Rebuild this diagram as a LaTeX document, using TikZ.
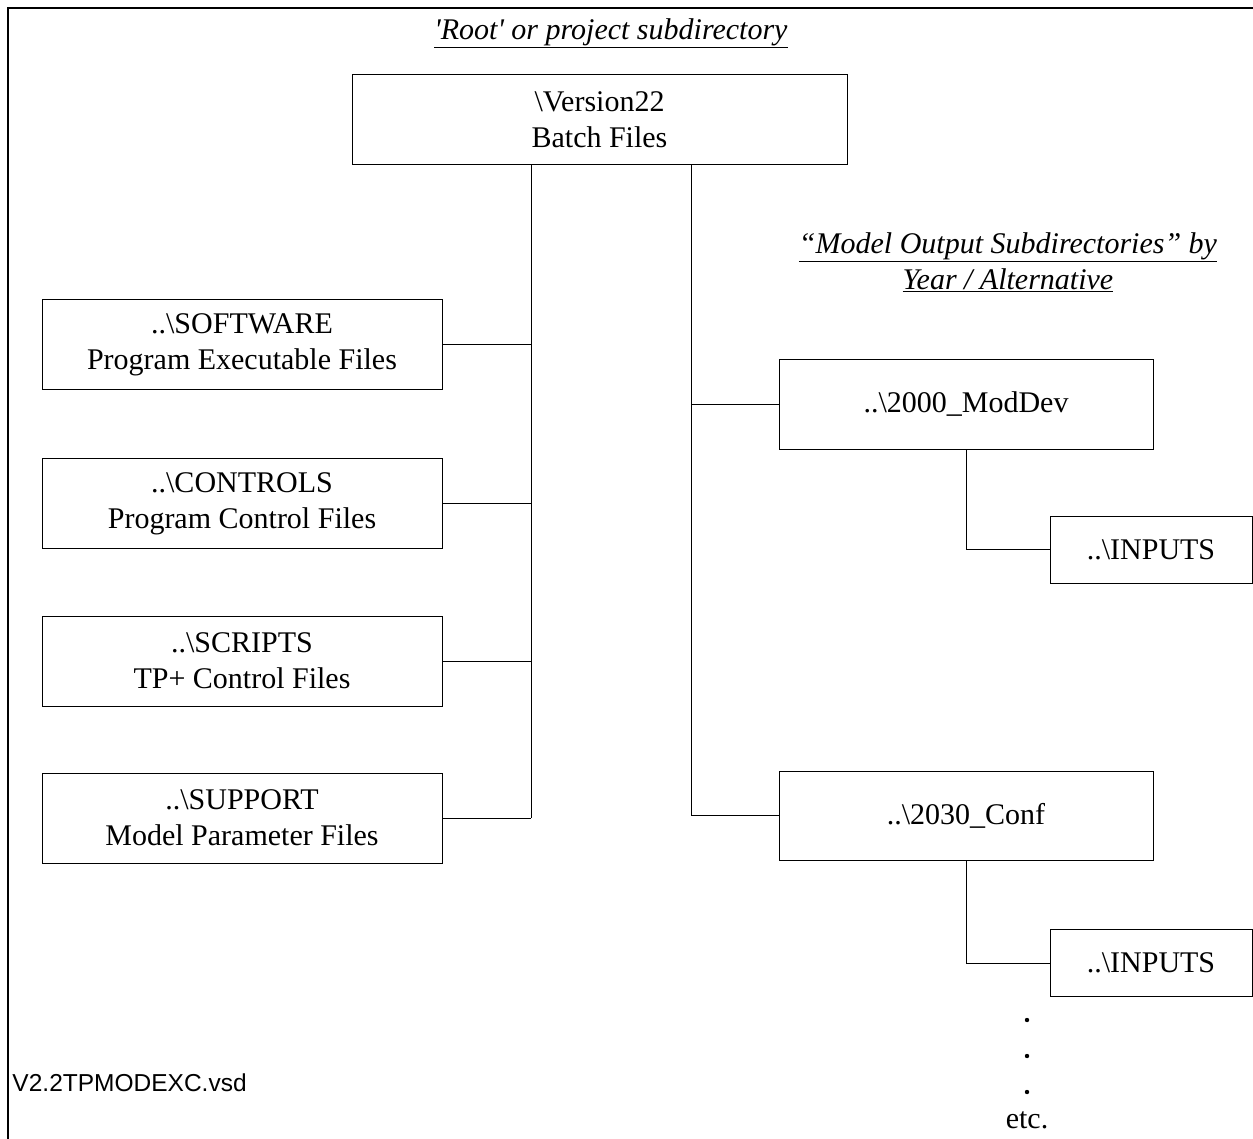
\documentclass[tikz,border=0pt]{standalone}
\usepackage{fontspec}
\setmainfont{Liberation Serif}
\setsansfont{Liberation Sans}
\usetikzlibrary{positioning}

\begin{document}
\begin{tikzpicture}[
    x=1pt, y=-1pt,
    font=\fontsize{30}{36}\selectfont,
    line width=1pt,
    dirbox/.style={draw, align=center, inner sep=0pt, minimum width=400pt, minimum height=90pt},
    outbox/.style={dirbox, minimum width=374pt, minimum height=89pt},
    inbox/.style={dirbox, minimum width=202pt, minimum height=67pt},
    heading/.style={align=center, inner sep=0pt},
    link/.style={draw, line width=1pt}
]
    \useasboundingbox (0,0) rectangle (1253,1139);
    \draw[line width=1.5pt] (8,1139) -- (8,8) -- (1253,8);

    % root and program folders
    \node[heading] (roottitle) at (611,33) {\underline{\textit{\textquotesingle Root\textquotesingle{} or project subdirectory}}};
    \node[dirbox, minimum width=495pt] (root) at (599.5,120) {\textbackslash Version22\\Batch Files};
    \node[dirbox] (software) at (242,345) {..\textbackslash SOFTWARE\\Program Executable Files};
    \node[dirbox] (controls) at (242,503.5) {..\textbackslash CONTROLS\\Program Control Files};
    \node[dirbox] (scripts) at (242,661) {..\textbackslash SCRIPTS\\TP+ Control Files};
    \node[dirbox] (support) at (242,818) {..\textbackslash SUPPORT\\Model Parameter Files};

    % model output folders
    \node[heading] (outtitle) at (1008,262) {\underline{\textit{“Model Output Subdirectories” by}}\\\underline{\textit{Year / Alternative}}};
    \node[outbox] (run2000) at (966,404.5) {..\textbackslash 2000\_ModDev};
    \node[inbox] (inputs2000) at (1151,549.5) {..\textbackslash INPUTS};
    \node[outbox] (run2030) at (966,815.5) {..\textbackslash 2030\_Conf};
    \node[inbox] (inputs2030) at (1151,963) {..\textbackslash INPUTS};

    \coordinate (trunkL) at (531,818);
    \coordinate (trunkR) at (691,818);

    \draw[link] (trunkL |- root.south) -- (trunkL |- support.east);
    \foreach \dir in {software, controls, scripts, support}
        \draw[link] (\dir.east) -- (\dir.east -| trunkL);

    \draw[link] (trunkR |- root.south) |- (run2030.west);
    \draw[link] (run2000.west -| trunkR) -- (run2000.west);
    \draw[link] (run2000.south) |- (inputs2000.west);
    \draw[link] (run2030.south) |- (inputs2030.west);

    % more years
    \foreach \y in {1020, 1056, 1092}
        \fill (1027,\y) circle (2.2pt);
    \node (etc) at (1027,1120) {etc.};

    \node[anchor=west, inner sep=0pt, font=\sffamily\fontsize{24.5}{28}\selectfont] (vsdname) at (12,1083) {V2.2TPMODEXC.vsd};
\end{tikzpicture}
\end{document}
